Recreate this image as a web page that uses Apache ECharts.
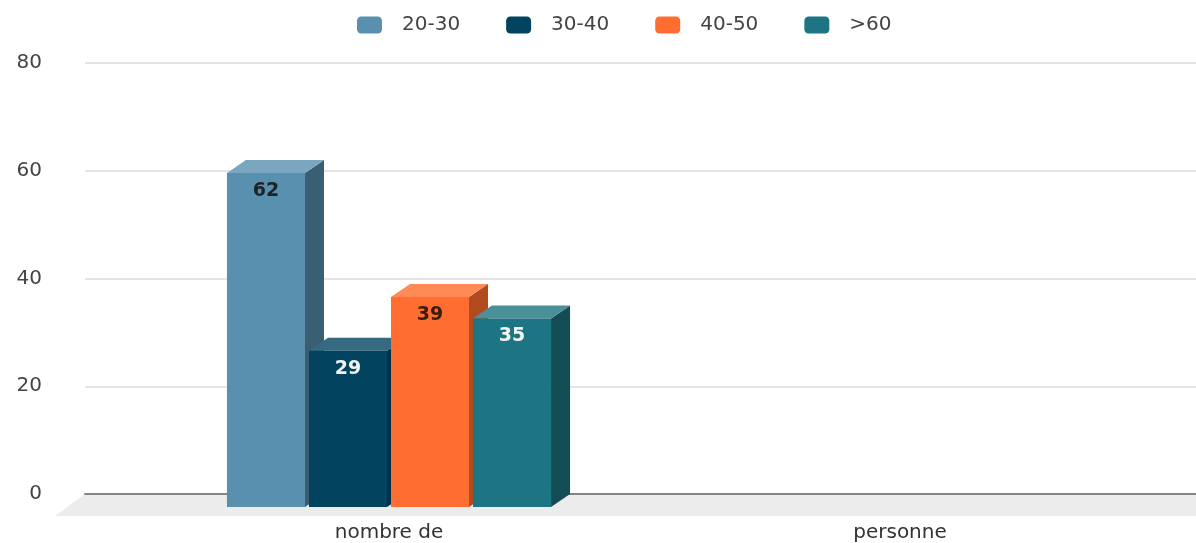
<!DOCTYPE html>
<html>
<head>
<meta charset="utf-8">
<script src="https://cdn.jsdelivr.net/npm/echarts@6/dist/echarts.min.js"></script>
<style>
  html, body { margin: 0; padding: 0; background: #ffffff; }
  #chart { width: 1196px; height: 543px; }
</style>
</head>
<body>
<div id="chart"></div>
<script>
// Data
const categories = ['nombre de', 'personne'];
const seriesNames = ['20-30', '30-40', '40-50', '>60'];
const age20to30 = [62, null];
const age30to40 = [29, null];
const age40to50 = [39, null];
const ageOver60 = [35, null];
const yTicks = [0, 20, 40, 60, 80];

// Styling for the pseudo-3D boxes: front, top and side shades, label colour
const palette = [
  { front: '#5a90af', top: '#7aa7bf', side: '#3a5f72', label: '#1e2328' },
  { front: '#02445f', top: '#356a80', side: '#01324a', label: '#f2f2f2' },
  { front: '#ff6d30', top: '#ff8a55', side: '#b14a1f', label: '#3a1c0c' },
  { front: '#1d7483', top: '#4a9099', side: '#134c55', label: '#f2f2f2' }
];
const DEPTH_X = 19, DEPTH_Y = 13;      // box depth offset in px
const BAR_FRAC = 0.1527, STEP_FRAC = 0.1605; // bar width / step as share of a category band
const FONT = 'DejaVu Sans';

const seriesValues = [age20to30, age30to40, age40to50, ageOver60];

function boxRenderer(seriesIdx) {
  const col = palette[seriesIdx];
  return function (params, api) {
    const v = api.value(1);
    if (v == null || isNaN(v)) return;
    const cat = api.value(0);
    const band = api.size([1, 0])[0];
    const w = band * BAR_FRAC;
    const step = band * STEP_FRAC;
    const base = api.coord([cat, 0]);
    const top = api.coord([cat, v]);
    const groupW = step * 3 + w;
    const x = base[0] - groupW / 2 + seriesIdx * step;
    const yT = top[1], yB = base[1];
    return {
      type: 'group',
      children: [
        { type: 'polygon', shape: { points: [[x + w, yT], [x + w + DEPTH_X, yT - DEPTH_Y], [x + w + DEPTH_X, yB - DEPTH_Y], [x + w, yB]] }, style: { fill: col.side } },
        { type: 'polygon', shape: { points: [[x, yT], [x + w, yT], [x + w + DEPTH_X, yT - DEPTH_Y], [x + DEPTH_X, yT - DEPTH_Y]] }, style: { fill: col.top } },
        { type: 'rect', shape: { x: x, y: yT, width: w, height: yB - yT }, style: { fill: col.front } },
        { type: 'text', style: { text: String(v), x: x + w / 2, y: yT + 18, align: 'center', verticalAlign: 'middle', fill: col.label, font: 'bold 19px "' + FONT + '"' } }
      ]
    };
  };
}

const barSeries = seriesNames.map((name, i) => ({
  name: name,
  type: 'custom',
  xAxisIndex: 1,
  yAxisIndex: 1,
  z: 5,
  itemStyle: { color: palette[i].front },
  renderItem: boxRenderer(i),
  data: categories.map((c, k) => [k, seriesValues[i][k]])
}));

// Grey floor slab under the plot
const floorSeries = {
  type: 'custom',
  xAxisIndex: 0,
  yAxisIndex: 0,
  z: 1,
  silent: true,
  data: [[0, 0]],
  renderItem: function (params, api) {
    const cs = params.coordSys;
    const yb = cs.y + cs.height;
    return {
      type: 'polygon',
      shape: { points: [[cs.x, yb], [cs.x + cs.width, yb], [cs.x + cs.width, yb + 22], [cs.x - 30, yb + 22]] },
      style: { fill: '#ececec' }
    };
  }
};

const chart = echarts.init(document.getElementById('chart'), null, { renderer: 'canvas' });
chart.setOption({
  animation: false,
  backgroundColor: '#ffffff',
  legend: {
    data: seriesNames,
    left: 352,
    top: 10,
    itemWidth: 25,
    itemHeight: 17,
    itemGap: 46,
    icon: 'roundRect',
    textStyle: { fontFamily: FONT, fontSize: 20, color: '#444', padding: [0, 0, 0, 15] }
  },
  grid: [
    { left: 85, right: 0, top: 63, bottom: 49 },
    { left: 133.5, right: 40.5, top: 76, bottom: 36 }
  ],
  xAxis: [
    {
      gridIndex: 0, type: 'value', min: 0, max: 1, z: 3,
      axisLine: { show: true, onZero: false, lineStyle: { color: '#858585', width: 2 } },
      axisTick: { show: false }, axisLabel: { show: false }, splitLine: { show: false }
    },
    {
      gridIndex: 1, type: 'category', data: categories,
      axisLine: { show: false }, axisTick: { show: false }, splitLine: { show: false },
      axisLabel: { margin: 16, fontFamily: FONT, fontSize: 20, color: '#333' }
    }
  ],
  yAxis: [
    {
      gridIndex: 0, type: 'value', min: yTicks[0], max: yTicks[yTicks.length - 1], interval: yTicks[1] - yTicks[0],
      axisLine: { show: false }, axisTick: { show: false },
      axisLabel: { margin: 43, fontFamily: FONT, fontSize: 20, color: '#444' },
      splitLine: { show: true, lineStyle: { color: '#dcdcdc', width: 1.5 } }
    },
    {
      gridIndex: 1, type: 'value', min: yTicks[0], max: yTicks[yTicks.length - 1], show: false
    }
  ],
  series: [floorSeries].concat(barSeries)
});
</script>
</body>
</html>
